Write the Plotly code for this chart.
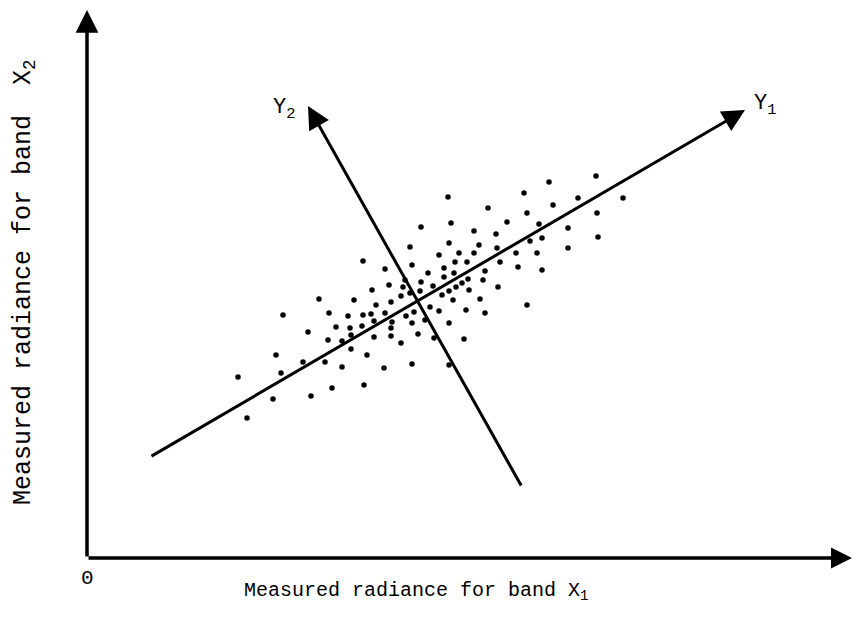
import plotly.graph_objects as go

# Scatter of measured radiances (band X1, band X2), arbitrary units
x1 = [23.2, 26.7, 19.6, 24.2, 26.1, 24.9, 26.3, 22.1, 26.4, 24.1, 25.5, 26.4, 18.9, 21.6, 23.8,
      15.1, 19.4, 25.5, 24.5, 18.6, 22.4, 16.0,
      33.4, 36.4, 38.7, 32.3, 36.2, 39.2, 27.6, 35.2, 37.2, 38.7, 32.5, 36.8, 38.0, 29.8, 35.7,
      34.1, 36.7, 39.8, 31.8, 33.4, 35.7, 38.1, 39.6, 30.2, 31.6, 34.6, 37.5, 28.5, 33.3, 36.2,
      36.9, 38.2, 31.4, 32.3, 35.5, 36.6, 39.3, 30.4, 28.9, 34.3, 35.2, 37.9, 39.8, 27.6, 28.4,
      29.8, 31.9, 32.7, 27.5, 28.7, 30.5, 32.5, 33.8, 36.2, 30.4, 28.7, 30.4, 33.1, 34.7, 37.7,
      31.4, 28.0, 32.5, 29.7, 36.2, 40.1,
      50.9, 46.2, 43.7, 49.1, 53.6, 46.6, 44.0, 51.0, 42.0, 45.2, 48.1, 40.9, 51.1, 44.3, 45.5,
      41.0, 48.1, 42.9, 45.0, 41.3, 43.1, 45.5, 41.1, 44.0, 36.1, 27.7]
x2 = [25.9, 25.8, 24.3, 24.5, 24.2, 23.1, 23.0, 22.6, 22.3, 21.8, 21.7, 20.9, 20.3, 19.6, 19.6,
      18.1, 18.5, 19.1, 17.0, 15.9, 16.2, 14.0,
      33.1, 33.5, 32.7, 31.1, 31.5, 31.3, 29.7, 30.3, 30.5, 30.5, 29.3, 29.6, 29.6, 28.9, 29.0,
      28.5, 28.5, 28.7, 27.8, 27.6, 28.1, 27.9, 27.8, 27.3, 27.1, 27.2, 27.5, 26.8, 26.7, 26.7,
      27.1, 26.8, 26.2, 26.5, 26.3, 25.8, 25.9, 25.6, 25.3, 25.1, 24.7, 24.8, 24.5, 24.3, 24.4,
      24.5, 24.2, 24.6, 23.2, 23.7, 23.6, 23.5, 23.8, 23.5, 23.0, 22.1, 22.2, 22.4, 22.0, 21.9,
      21.5, 20.3, 19.4, 19.0, 19.3, 35.0,
      38.2, 37.6, 36.5, 36.0, 36.0, 35.3, 34.5, 34.5, 33.6, 33.4, 33.0, 32.4, 32.1, 31.7, 32.0,
      31.0, 31.0, 30.5, 30.5, 29.6, 29.1, 28.8, 27.1, 25.3, 36.1, 17.3]

# Principal component axes: tail and head (x1, x2)
y1_axis = [(6.3, 10.1), (65.8, 44.8)]
y2_axis = [(43.5, 7.1), (22.1, 45.2)]
axis_x_end = 76.5
axis_y_end = 54.8

FONT = "Liberation Mono, Courier New, monospace"

fig = go.Figure()
fig.add_trace(go.Scatter(x=x1, y=x2, mode="markers",
                         marker=dict(size=5.5, color="black"), hoverinfo="skip",
                         showlegend=False))

def arrow(tail, head, width=3, size=1.0, style=2):
    fig.add_annotation(x=head[0], y=head[1], ax=tail[0], ay=tail[1],
                       xref="x", yref="y", axref="x", ayref="y",
                       text="", showarrow=True, arrowhead=style,
                       arrowwidth=width, arrowsize=size, arrowcolor="black",
                       standoff=0, startstandoff=0)

# main axes
arrow((0, 0), (axis_x_end, 0), width=3.5, size=1.2)
arrow((0, 0), (0, axis_y_end), width=3.5, size=1.3)
# principal axes
arrow(y1_axis[0], y1_axis[1], width=3, size=1.5)
arrow(y2_axis[0], y2_axis[1], width=3, size=1.5)

fig.add_annotation(x=66.5, y=45.3, xref="x", yref="y", text="Y<sub>1</sub>",
                   showarrow=False, xanchor="left", yanchor="middle",
                   font=dict(family=FONT, size=22, color="black"))
fig.add_annotation(x=21.0, y=44.9, xref="x", yref="y", text="Y<sub>2</sub>",
                   showarrow=False, xanchor="right", yanchor="middle",
                   font=dict(family=FONT, size=22, color="black"))
fig.add_annotation(x=0, y=-2.0, xref="x", yref="y", text="0",
                   showarrow=False, xanchor="center", yanchor="middle",
                   font=dict(family=FONT, size=21, color="black"))
fig.add_annotation(x=15.5, y=-3.3, xref="x", yref="y",
                   text="Measured radiance for band X<sub>1</sub>",
                   showarrow=False, xanchor="left", yanchor="middle",
                   font=dict(family=FONT, size=20, color="black"))
fig.add_annotation(x=-6.3, y=27.6, xref="x", yref="y",
                   text="Measured radiance for band  X<sub>2</sub>",
                   showarrow=False, textangle=-90, xanchor="center", yanchor="middle",
                   font=dict(family=FONT, size=25, color="black"))

fig.update_layout(
    width=854, height=620,
    margin=dict(l=0, r=0, t=0, b=0),
    paper_bgcolor="white", plot_bgcolor="white",
    xaxis=dict(range=[-8.7, 76.7], visible=False, fixedrange=True),
    yaxis=dict(range=[-6.2, 55.8], visible=False, fixedrange=True),
)

fig.write_html("out.html")
